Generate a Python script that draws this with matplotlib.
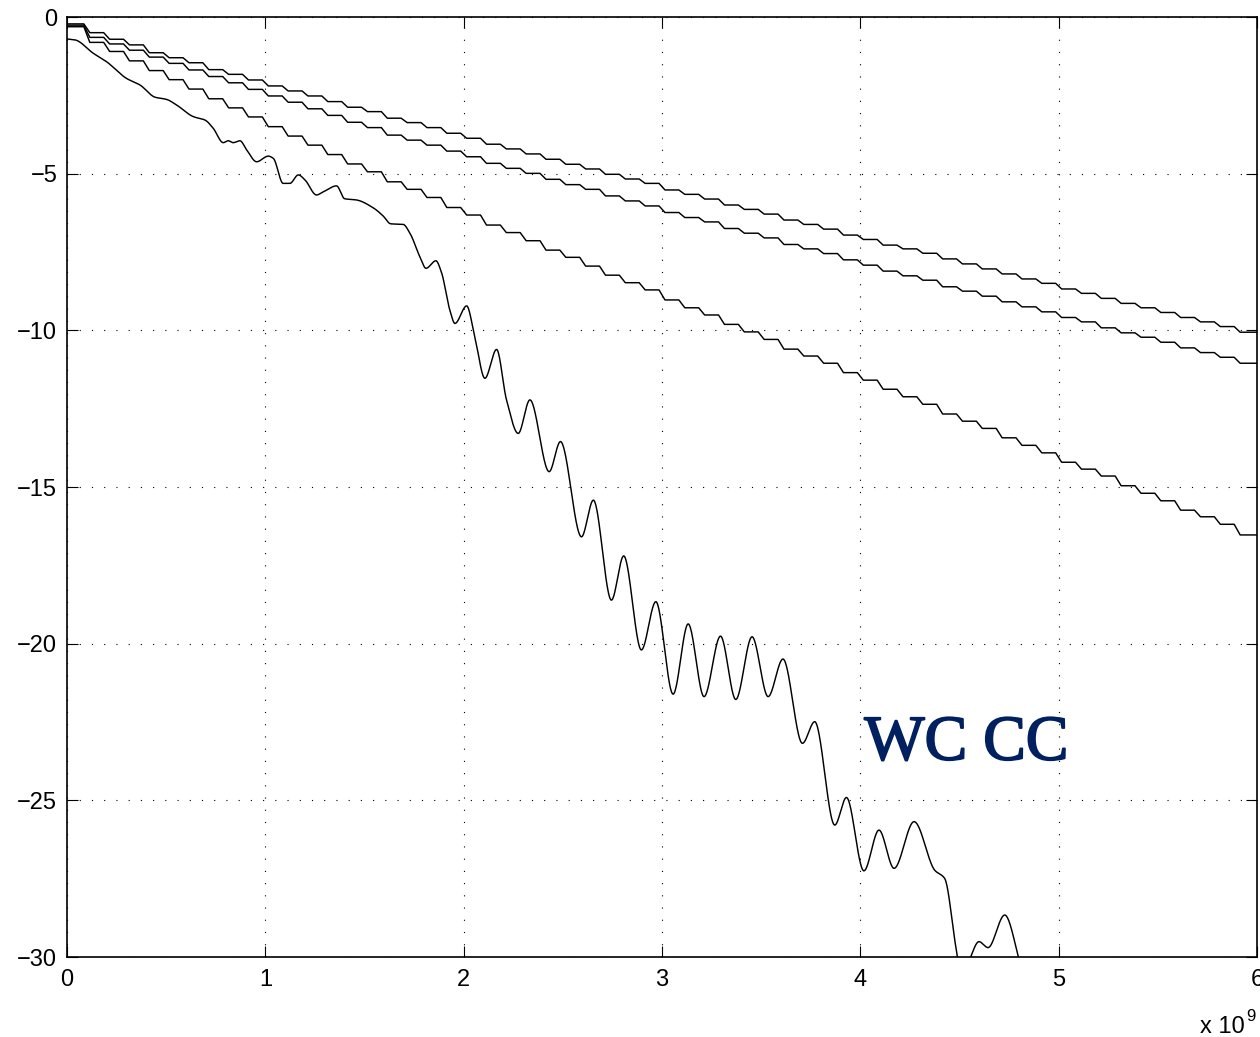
import numpy as np
import matplotlib
matplotlib.use("Agg")
import matplotlib.pyplot as plt
import matplotlib.patheffects as pe

plt.rcParams['font.family'] = ['Liberation Sans', 'DejaVu Sans']

# plateau levels of the three staircase curves, one level per 1e8 step
top_levels = [
    -0.22, -0.50, -0.71, -0.89, -1.14, -1.30, -1.46, -1.68, -1.83, -2.01,
    -2.20, -2.36, -2.52, -2.70, -2.88, -3.02, -3.23, -3.37, -3.53, -3.71,
    -3.87, -4.06, -4.21, -4.37, -4.54, -4.70, -4.85, -5.02, -5.17, -5.31,
    -5.52, -5.66, -5.81, -6.00, -6.14, -6.29, -6.48, -6.62, -6.77, -6.96,
    -7.10, -7.28, -7.40, -7.54, -7.72, -7.88, -8.04, -8.20, -8.36, -8.50,
    -8.68, -8.82, -8.98, -9.14, -9.28, -9.43, -9.59, -9.73, -9.88, -10.06,
]
mid_levels = [
    -0.26, -0.65, -0.86, -1.06, -1.28, -1.48, -1.69, -1.90, -2.10, -2.31,
    -2.52, -2.72, -2.93, -3.14, -3.36, -3.53, -3.77, -3.93, -4.09, -4.28,
    -4.46, -4.67, -4.83, -4.99, -5.18, -5.35, -5.50, -5.71, -5.87, -6.03,
    -6.24, -6.40, -6.54, -6.75, -6.90, -7.05, -7.26, -7.40, -7.55, -7.75,
    -7.92, -8.11, -8.26, -8.40, -8.61, -8.75, -8.91, -9.09, -9.25, -9.41,
    -9.59, -9.73, -9.92, -10.08, -10.22, -10.38, -10.56, -10.71, -10.86, -11.05,
]
low_levels = [
    -0.31, -0.81, -1.10, -1.40, -1.71, -2.00, -2.30, -2.61, -2.90, -3.19,
    -3.50, -3.80, -4.09, -4.39, -4.69, -4.94, -5.26, -5.50, -5.76, -6.08,
    -6.32, -6.64, -6.88, -7.14, -7.44, -7.67, -7.95, -8.24, -8.48, -8.71,
    -9.03, -9.28, -9.51, -9.81, -10.05, -10.29, -10.60, -10.82, -11.05, -11.35,
    -11.59, -11.88, -12.12, -12.36, -12.67, -12.90, -13.13, -13.43, -13.67, -13.91,
    -14.21, -14.43, -14.65, -14.96, -15.20, -15.44, -15.74, -15.95, -16.19, -16.53,
]
step_dx = 0.1e9

# oscillating curve, points read at its turning points (x in units of 1e9)
wc_x = [0.0, 0.04, 0.133, 0.2, 0.3, 0.368, 0.444, 0.502, 0.553, 0.637,
        0.696, 0.737, 0.788, 0.813, 0.838, 0.872, 0.906, 0.956, 1.015, 1.04,
        1.09, 1.124, 1.166, 1.2, 1.258, 1.292, 1.359, 1.40, 1.46, 1.544,
        1.594, 1.632, 1.695, 1.729, 1.779, 1.81, 1.86, 1.888, 1.93, 1.956,
        2.015, 2.056, 2.107, 2.166, 2.216, 2.275, 2.334, 2.431, 2.488, 2.594,
        2.654, 2.745, 2.807, 2.896, 2.969, 3.056, 3.132, 3.212, 3.295, 3.372,
        3.454, 3.535, 3.61, 3.708, 3.77, 3.871, 3.93, 4.018, 4.094, 4.17,
        4.271, 4.375, 4.425, 4.484, 4.52, 4.56, 4.598, 4.644, 4.728, 4.795,
        4.83]
wc_y = [-0.70, -0.73, -1.16, -1.43, -1.96, -2.17, -2.56, -2.63, -2.81, -3.18,
        -3.29, -3.55, -4.01, -3.95, -4.01, -3.95, -4.24, -4.62, -4.44, -4.51,
        -5.31, -5.31, -5.04, -5.20, -5.68, -5.58, -5.39, -5.80, -5.84, -6.09,
        -6.35, -6.60, -6.62, -6.90, -7.65, -8.02, -7.78, -8.15, -9.35, -9.78,
        -9.22, -10.20, -11.53, -10.61, -12.22, -13.29, -12.22, -14.51, -13.55, -16.59,
        -15.42, -18.61, -17.20, -20.20, -18.66, -21.61, -19.37, -21.69, -19.76, -21.78,
        -19.78, -21.69, -20.49, -23.18, -22.49, -25.79, -24.91, -27.25, -25.95, -27.17,
        -25.68, -27.23, -27.49, -29.78, -31.0, -29.94, -29.51, -29.70, -28.66, -29.94,
        -31.0]

x_ticks = [0, 1, 2, 3, 4, 5, 6]
y_ticks = [-30, -25, -20, -15, -10, -5, 0]


def stairs(levels, dx, x_end, ramp=0.3):
    xs, ys = [0.0], [levels[0]]
    for k in range(1, len(levels)):
        xc = k * dx
        xs += [xc - ramp * dx / 2, xc + ramp * dx / 2]
        ys += [levels[k - 1], levels[k]]
    xs.append(x_end)
    ys.append(levels[-1])
    return np.array(xs), np.array(ys)


def pchip(x, y, n=3000):
    # shape preserving cubic, only used to draw a smooth line through the points
    x = np.asarray(x, float)
    y = np.asarray(y, float)
    h = np.diff(x)
    d = np.diff(y) / h
    m = np.zeros_like(y)
    m[0], m[-1] = d[0], d[-1]
    for k in range(1, len(x) - 1):
        if d[k - 1] * d[k] > 0:
            w1 = 2 * h[k] + h[k - 1]
            w2 = h[k] + 2 * h[k - 1]
            m[k] = (w1 + w2) / (w1 / d[k - 1] + w2 / d[k])
    xq = np.linspace(x[0], x[-1], n)
    i = np.clip(np.searchsorted(x, xq) - 1, 0, len(x) - 2)
    t = (xq - x[i]) / h[i]
    h00 = 2 * t**3 - 3 * t**2 + 1
    h10 = t**3 - 2 * t**2 + t
    h01 = -2 * t**3 + 3 * t**2
    h11 = t**3 - t**2
    yq = h00 * y[i] + h10 * h[i] * m[i] + h01 * y[i + 1] + h11 * h[i] * m[i + 1]
    return xq, yq


fig = plt.figure(figsize=(12.6, 10.37), dpi=100)
ax = fig.add_axes([67 / 1260, 1 - 957 / 1037, 1190 / 1260, 940 / 1037])

for levels in (top_levels, mid_levels, low_levels):
    sx, sy = stairs(levels, step_dx, 6e9)
    ax.plot(sx, sy, color='black', lw=1.05)

wx, wy = pchip(np.array(wc_x) * 1e9, wc_y)
ax.plot(wx, wy, color='black', lw=1.05)

ax.set_xlim(0, 6e9)
ax.set_ylim(-30, 0)
ax.set_xticks(np.array(x_ticks) * 1e9)
ax.set_xticklabels([str(t) for t in x_ticks])
ax.set_yticks(y_ticks)
ax.set_yticklabels(['\u2212%d' % -t if t < 0 else str(t) for t in y_ticks])
ax.tick_params(direction='in', length=8, width=0.8, top=True, right=True,
               labelsize=17, colors='black')
ax.tick_params(axis='x', pad=9)
ax.tick_params(axis='y', pad=7)
ax.grid(True, color='black', linestyle=(0, (1, 10)), lw=0.8)
for s in ax.spines.values():
    s.set_linewidth(1.2)

ax.text(4.02e9, -23.7, 'WC CC', fontsize=46, color='#002060',
        family=['Liberation Serif', 'DejaVu Serif'],
        path_effects=[pe.withStroke(linewidth=1.3, foreground='#002060')])

fig.text(1245 / 1260, 1 - 1033 / 1037, 'x 10', fontsize=17, ha='right', va='baseline')
fig.text(1246 / 1260, 1 - 1021 / 1037, '9', fontsize=12, ha='left', va='baseline')

plt.savefig('out.png', dpi=100)
